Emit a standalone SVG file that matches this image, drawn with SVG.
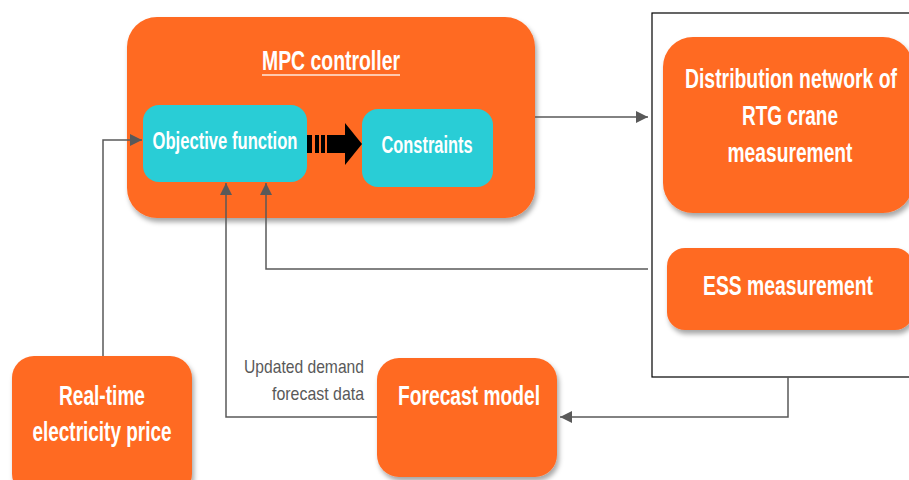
<svg xmlns="http://www.w3.org/2000/svg" width="909" height="480" viewBox="0 0 909 480">
<defs>
<filter id="sh" x="-10%" y="-10%" width="125%" height="130%">
<feDropShadow dx="2" dy="4" stdDeviation="2.5" flood-color="#000" flood-opacity="0.35"/>
</filter>
<marker id="ah" viewBox="0 0 12 12" refX="12" refY="6" markerWidth="12" markerHeight="12" markerUnits="userSpaceOnUse" orient="auto">
<path d="M0,0 L12,6 L0,12 Z" fill="#595959"/>
</marker>
</defs>
<style>
.or{fill:#FF6A24;filter:url(#sh)}
.cy{fill:#29CDD6}
.t{font-family:"Liberation Sans",Arial,sans-serif;font-weight:bold;fill:#fff;text-anchor:middle}
.g{font-family:"Liberation Sans",Arial,sans-serif;fill:#595959;text-anchor:end;font-size:19px}
.c{fill:none;stroke:#595959;stroke-width:1.5}
</style>
<rect x="652" y="13" width="262" height="364" fill="none" stroke="#000" stroke-width="1.2"/>
<g id="mpc">
<rect class="or" x="127" y="17" width="408" height="201" rx="30"/>
<text class="t" x="331" y="70" font-size="27" textLength="138" lengthAdjust="spacingAndGlyphs">MPC controller</text>
<line x1="262" y1="75" x2="400" y2="75" stroke="#FFE9DC" stroke-width="1.5"/>
</g>
<g id="objective">
<rect class="cy" x="143" y="105" width="164" height="77" rx="16"/>
<text class="t" x="225" y="149" font-size="23" textLength="145" lengthAdjust="spacingAndGlyphs">Objective function</text>
</g>
<g id="flowarrow">
<rect x="307" y="135" width="5" height="18" fill="#000"/>
<rect x="315" y="135" width="4" height="18" fill="#000"/>
<rect x="321" y="135" width="4" height="18" fill="#000"/>
<rect x="327" y="135" width="20" height="18" fill="#000"/>
<path d="M345,123 L362,144 L345,165 Z" fill="#000"/>
</g>
<g id="constraints">
<rect class="cy" x="362" y="109" width="131" height="78" rx="16"/>
<text class="t" x="427" y="153" font-size="23" textLength="91" lengthAdjust="spacingAndGlyphs">Constraints</text>
</g>
<g id="distribution">
<rect class="or" x="663" y="37" width="250" height="176" rx="30"/>
<text class="t" x="791" y="88" font-size="27" textLength="212" lengthAdjust="spacingAndGlyphs">Distribution network of</text>
<text class="t" x="790" y="125" font-size="27" textLength="96" lengthAdjust="spacingAndGlyphs">RTG crane</text>
<text class="t" x="790" y="162" font-size="27" textLength="125" lengthAdjust="spacingAndGlyphs">measurement</text>
</g>
<g id="ess">
<rect class="or" x="667" y="248" width="246" height="82" rx="18"/>
<text class="t" x="788" y="295" font-size="27" textLength="170" lengthAdjust="spacingAndGlyphs">ESS measurement</text>
</g>
<g id="realtime">
<rect class="or" x="12" y="356" width="180" height="140" rx="22"/>
<text class="t" x="102" y="405" font-size="27" textLength="86" lengthAdjust="spacingAndGlyphs">Real-time</text>
<text class="t" x="102" y="441" font-size="27" textLength="139" lengthAdjust="spacingAndGlyphs">electricity price</text>
</g>
<g id="forecast">
<rect class="or" x="377" y="358" width="180" height="119" rx="22"/>
<text class="t" x="469" y="405" font-size="27" textLength="142" lengthAdjust="spacingAndGlyphs">Forecast model</text>
</g>
<g id="connectors">
<path class="c" d="M103,356 V140 H142" marker-end="url(#ah)"/>
<path class="c" d="M377,417 H226 V183" marker-end="url(#ah)"/>
<path class="c" d="M648,269 H266 V183" marker-end="url(#ah)"/>
<path class="c" d="M535,117 H648" marker-end="url(#ah)"/>
<path class="c" d="M788,377 V417 H560" marker-end="url(#ah)"/>
<text class="g" x="364" y="373" textLength="120" lengthAdjust="spacingAndGlyphs">Updated demand</text>
<text class="g" x="364" y="400" textLength="92" lengthAdjust="spacingAndGlyphs">forecast data</text>
</g>
</svg>
